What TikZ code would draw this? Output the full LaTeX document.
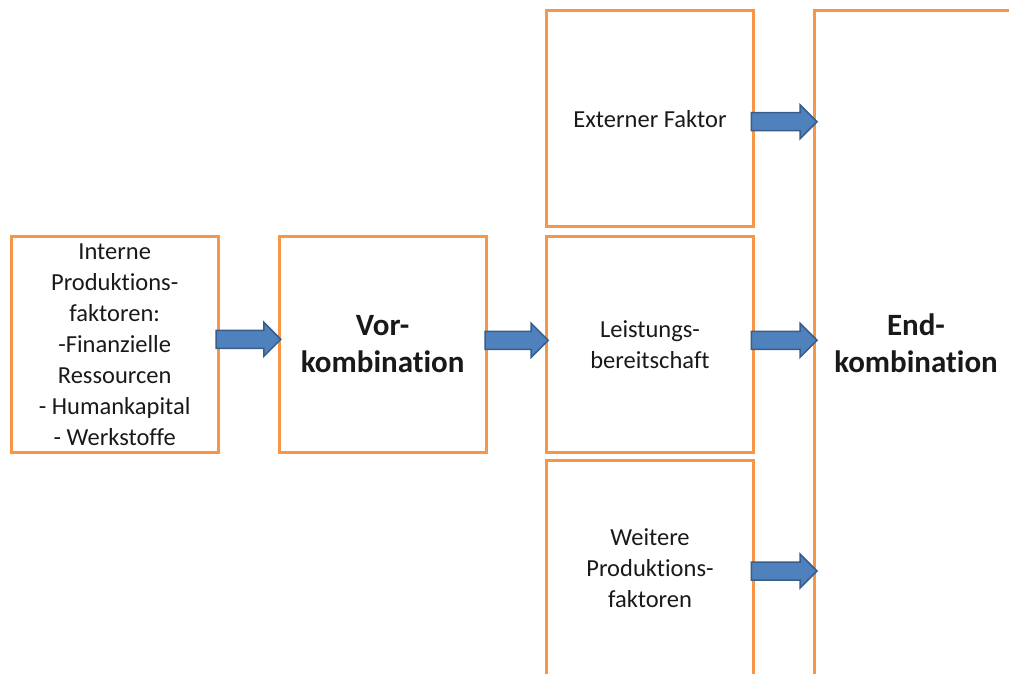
\documentclass[tikz,border=0pt]{standalone}
\usepackage{fontspec}
\setmainfont{Carlito}[RawFeature={-liga}]
\usetikzlibrary{calc}
\definecolor{boxorange}{HTML}{F79646}
\definecolor{arrowfill}{HTML}{4F81BD}
\definecolor{arrowline}{HTML}{385D8A}
\begin{document}
\begin{tikzpicture}[x=1pt,y=-1pt,
  box/.style={draw=boxorange, line width=3pt, outer sep=0pt, inner sep=0pt,
    minimum width=206.7pt, minimum height=216pt, align=center,
    font=\fontsize{24.5}{31}\selectfont, text=black!90},
  bigtext/.style={font=\fontsize{31}{37}\selectfont\bfseries},
  blockarrow/.style={draw=arrowline, fill=arrowfill, line width=1.5pt, line join=miter,
    to path={let \p1=(\tikztostart), \p2=(\tikztotarget) in
      (\x1,\y1+9pt) -- (\x2-17pt,\y1+9pt) -- (\x2-17pt,\y1+17pt) -- (\x2,\y1)
      -- (\x2-17pt,\y1-17pt) -- (\x2-17pt,\y1-9pt) -- (\x1,\y1-9pt) -- cycle}}
]
\useasboundingbox (0,0) rectangle (1009,673);
\clip (0,0) rectangle (1009,673);

% boxes
\node[box] (intern) at (114.7,344.3) {Interne\\Produktions-\\faktoren:\\-Finanzielle\\Ressourcen\\- Humankapital\\- Werkstoffe};
\node[box, bigtext] (vor) at (382.7,344.3) {Vor-\\kombination};
\node[box] (ext) at (650,118.7) {Externer Faktor};
\node[box] (leist) at (650,344.3) {Leistungs-\\bereitschaft};
\node[box] (weit) at (650,568.5) {Weitere\\Produktions-\\faktoren};
\node[box, bigtext, minimum width=204pt, minimum height=665.7pt] (end) at (916,343.6) {End-\\kombination};

% arrow start points
\coordinate (a1) at ([shift={(-2pt,5pt)}]intern.east);
\coordinate (a2) at ([shift={(-1pt,4pt)}]vor.east);
\coordinate (a3) at ([shift={(-2pt,-3pt)}]ext.east);
\coordinate (a4) at ([shift={(-2pt,4pt)}]leist.east);
\coordinate (a5) at ([shift={(-2pt,-2.5pt)}]weit.east);

% block arrows
\draw[blockarrow] (a1) to ([xshift=1.5pt]a1 -| vor.west);
\draw[blockarrow] (a2) to ([xshift=1.5pt]a2 -| leist.west);
\draw[blockarrow] (a3) to ([xshift=3pt]a3 -| end.west);
\draw[blockarrow] (a4) to ([xshift=3pt]a4 -| end.west);
\draw[blockarrow] (a5) to ([xshift=3pt]a5 -| end.west);
\end{tikzpicture}
\end{document}
